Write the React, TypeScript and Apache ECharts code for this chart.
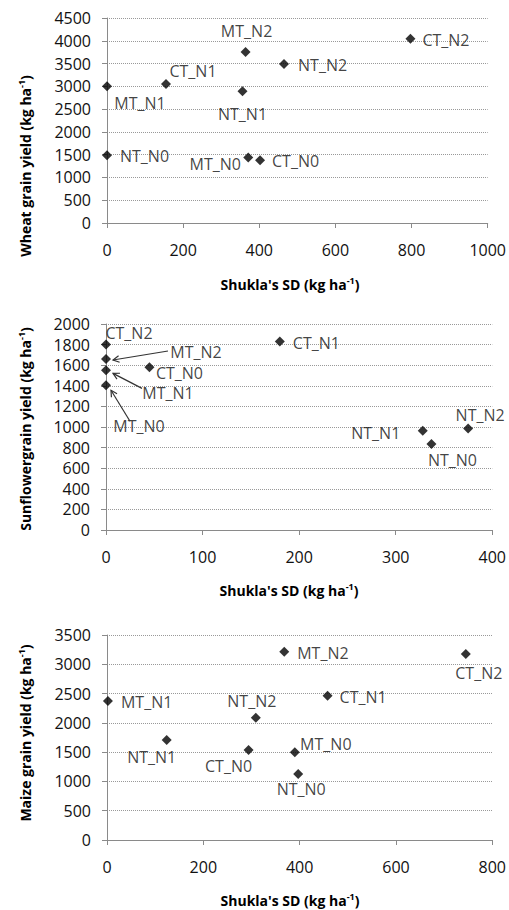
import React, { useEffect, useRef } from "react";
import * as echarts from "echarts";

// Wheat: Shukla's stability variance vs grain yield
const wheatNames = ["NT_N0", "MT_N1", "CT_N1", "NT_N1", "MT_N2", "NT_N2", "MT_N0", "CT_N0", "CT_N2"];
const wheatSD = [0, 0, 155, 356, 364, 465, 371, 402, 797];
const wheatYield = [1485, 3000, 3050, 2890, 3755, 3490, 1440, 1375, 4045];

// Sunflower
const sunNames = ["CT_N2", "MT_N2", "MT_N1", "MT_N0", "CT_N0", "CT_N1", "NT_N1", "NT_N0", "NT_N2"];
const sunSD = [0, 0, 0, 0, 45, 180, 328, 337, 375];
const sunYield = [1800, 1660, 1550, 1405, 1580, 1830, 963, 836, 985];

// Maize
const maizeNames = ["MT_N1", "NT_N1", "CT_N0", "NT_N2", "MT_N2", "MT_N0", "NT_N0", "CT_N1", "CT_N2"];
const maizeSD = [2, 124, 294, 309, 368, 390, 397, 458, 745];
const maizeYield = [2373, 1707, 1537, 2089, 3215, 1497, 1127, 2464, 3176];

// Axis tick settings per panel
const wheatXTicks = { min: 0, max: 1000, interval: 200 };
const wheatYTicks = { min: 0, max: 4500, interval: 500 };
const sunXTicks = { min: 0, max: 400, interval: 100 };
const sunYTicks = { min: 0, max: 2000, interval: 200 };
const maizeXTicks = { min: 0, max: 800, interval: 200 };
const maizeYTicks = { min: 0, max: 3500, interval: 500 };

const yTitles = ["Wheat grain yield", "Sunflowergrain yield", "Maize grain yield"];
const xTitle = "Shukla's SD";

const FONT = '"Open Sans", "Liberation Sans", sans-serif';

type Place = { dx: number; dy: number; align: "left" | "center" };

// Label placement around each marker (pixels)
const wheatPlace: Record<string, Place> = {
  NT_N0: { dx: 13, dy: 1, align: "left" },
  MT_N1: { dx: 33, dy: 17, align: "center" },
  CT_N1: { dx: 27, dy: -13, align: "center" },
  NT_N1: { dx: 0, dy: 23, align: "center" },
  MT_N2: { dx: 1, dy: -21, align: "center" },
  NT_N2: { dx: 14, dy: 1, align: "left" },
  MT_N0: { dx: -33, dy: 7, align: "center" },
  CT_N0: { dx: 12, dy: 1, align: "left" },
  CT_N2: { dx: 12, dy: 1, align: "left" },
};
const sunPlace: Record<string, Place> = {
  CT_N2: { dx: 23, dy: -12, align: "center" },
  MT_N2: { dx: 90, dy: -7, align: "center" },
  MT_N1: { dx: 62, dy: 23, align: "center" },
  MT_N0: { dx: 33, dy: 41, align: "center" },
  CT_N0: { dx: 30, dy: 6, align: "center" },
  CT_N1: { dx: 13, dy: 1, align: "left" },
  NT_N1: { dx: -47, dy: 2, align: "center" },
  NT_N0: { dx: 21, dy: 16, align: "center" },
  NT_N2: { dx: 12, dy: -14, align: "center" },
};
const maizePlace: Record<string, Place> = {
  MT_N1: { dx: 13, dy: 1, align: "left" },
  NT_N1: { dx: -15, dy: 17, align: "center" },
  CT_N0: { dx: -20, dy: 16, align: "center" },
  NT_N2: { dx: -4, dy: -17, align: "center" },
  MT_N2: { dx: 13, dy: 1, align: "left" },
  MT_N0: { dx: 31, dy: -8, align: "center" },
  NT_N0: { dx: 3, dy: 15, align: "center" },
  CT_N1: { dx: 12, dy: 1, align: "left" },
  CT_N2: { dx: 13, dy: 19, align: "center" },
};

// Leader arrows in the sunflower panel: start and tip offsets from the marker (pixels)
const sunArrows = [
  { name: "MT_N2", from: [62, -8], to: [7, 1] },
  { name: "MT_N1", from: [36, 18], to: [7, 3] },
  { name: "MT_N0", from: [24, 36], to: [5, 5] },
];

const grids = [
  { left: 107, right: 19, top: 18, height: 205 },
  { left: 106, right: 16, top: 324, height: 206 },
  { left: 107, right: 16, top: 635, height: 205 },
];

const AXIS_COLOR = "#8a8a8a";
const TEXT_COLOR = "#111";
const FONT_SIZE = 16;

function buildData(names: string[], xs: number[], ys: number[], place: Record<string, Place>) {
  return names.map((n, i) => {
    const p = place[n];
    return {
      name: n,
      value: [xs[i], ys[i]],
      label: {
        show: true,
        position: "inside",
        formatter: "{b}",
        align: p.align,
        verticalAlign: "middle",
        offset: [p.dx, p.dy],
        color: TEXT_COLOR,
        fontSize: FONT_SIZE,
        fontFamily: FONT,
      },
    };
  });
}

const plain = (v: number) => String(v);

function xAxisFor(idx: number, t: { min: number; max: number; interval: number }) {
  return {
    type: "value",
    gridIndex: idx,
    min: t.min,
    max: t.max,
    interval: t.interval,
    axisLine: { show: true, lineStyle: { color: AXIS_COLOR, width: 1 } },
    axisTick: { show: true, length: 5, lineStyle: { color: AXIS_COLOR } },
    axisLabel: { margin: 19, color: TEXT_COLOR, fontSize: FONT_SIZE, fontFamily: FONT, formatter: plain },
    splitLine: { show: false },
  };
}

function yAxisFor(idx: number, t: { min: number; max: number; interval: number }) {
  return {
    type: "value",
    gridIndex: idx,
    min: t.min,
    max: t.max,
    interval: t.interval,
    axisLine: { show: true, lineStyle: { color: AXIS_COLOR, width: 1 } },
    axisTick: { show: true, length: 5, lineStyle: { color: AXIS_COLOR } },
    axisLabel: { margin: 16, color: TEXT_COLOR, fontSize: FONT_SIZE, fontFamily: FONT, formatter: plain },
    splitLine: { show: true, lineStyle: { color: "#999", type: [1, 1], width: 1 } },
  };
}

const titleRich = {
  b: { fontSize: 14, fontWeight: "bold", fontFamily: FONT, color: TEXT_COLOR },
  s: { fontSize: 9, fontWeight: "bold", fontFamily: FONT, color: TEXT_COLOR, verticalAlign: "top", padding: [0, 0, 7, 0] },
};

function titleText(label: string, x: number, y: number, vertical: boolean) {
  return {
    type: "text",
    x,
    y,
    rotation: vertical ? Math.PI / 2 : 0,
    style: {
      text: `{b|${label} (kg ha}{s|-1}{b|)}`,
      rich: titleRich,
      align: "center",
      verticalAlign: "middle",
    },
    z: 10,
  };
}

export default function App() {
  const ref = useRef<HTMLDivElement>(null);

  useEffect(() => {
    if (!ref.current) return;
    const chart = echarts.init(ref.current, null, { renderer: "svg" });

    const seriesBase = {
      type: "scatter",
      symbol: "diamond",
      symbolSize: 10,
      itemStyle: { color: "#000" },
      emphasis: { disabled: true },
    };

    chart.setOption({
      animation: false,
      backgroundColor: "#fff",
      grid: grids,
      xAxis: [xAxisFor(0, wheatXTicks), xAxisFor(1, sunXTicks), xAxisFor(2, maizeXTicks)],
      yAxis: [yAxisFor(0, wheatYTicks), yAxisFor(1, sunYTicks), yAxisFor(2, maizeYTicks)],
      series: [
        { ...seriesBase, xAxisIndex: 0, yAxisIndex: 0, data: buildData(wheatNames, wheatSD, wheatYield, wheatPlace) },
        { ...seriesBase, xAxisIndex: 1, yAxisIndex: 1, data: buildData(sunNames, sunSD, sunYield, sunPlace) },
        { ...seriesBase, xAxisIndex: 2, yAxisIndex: 2, data: buildData(maizeNames, maizeSD, maizeYield, maizePlace) },
      ],
    });

    // Arrows from labels to the stacked markers at SD = 0
    const arrowEls: any[] = [];
    sunArrows.forEach((a) => {
      const i = sunNames.indexOf(a.name);
      const p = chart.convertToPixel({ seriesIndex: 1 }, [sunSD[i], sunYield[i]]) as number[];
      const x1 = p[0] + a.from[0];
      const y1 = p[1] + a.from[1];
      const x2 = p[0] + a.to[0];
      const y2 = p[1] + a.to[1];
      const len = Math.hypot(x2 - x1, y2 - y1);
      const ux = (x2 - x1) / len;
      const uy = (y2 - y1) / len;
      const head = 7;
      const ang = (28 * Math.PI) / 180;
      const rot = (s: number) => [
        x2 - head * (ux * Math.cos(s * ang) - uy * Math.sin(s * ang)),
        y2 - head * (ux * Math.sin(s * ang) + uy * Math.cos(s * ang)),
      ];
      arrowEls.push({
        type: "line",
        shape: { x1, y1, x2, y2 },
        style: { stroke: "#333", lineWidth: 1.2 },
        z: 10,
      });
      arrowEls.push({
        type: "polyline",
        shape: { points: [rot(1), [x2, y2], rot(-1)] },
        style: { stroke: "#333", lineWidth: 1.2, fill: null },
        z: 10,
      });
    });

    chart.setOption({
      graphic: [
        titleText(yTitles[0], 25, 166, true),
        titleText(xTitle, 290, 284, false),
        titleText(yTitles[1], 25, 429, true),
        titleText(xTitle, 289, 590, false),
        titleText(yTitles[2], 25, 733, true),
        titleText(xTitle, 290, 900, false),
        ...arrowEls,
      ],
    });

    return () => chart.dispose();
  }, []);

  return (
    <div
      ref={ref}
      style={{ position: "absolute", left: 0, top: 0, width: 509, height: 910 }}
    />
  );
}
